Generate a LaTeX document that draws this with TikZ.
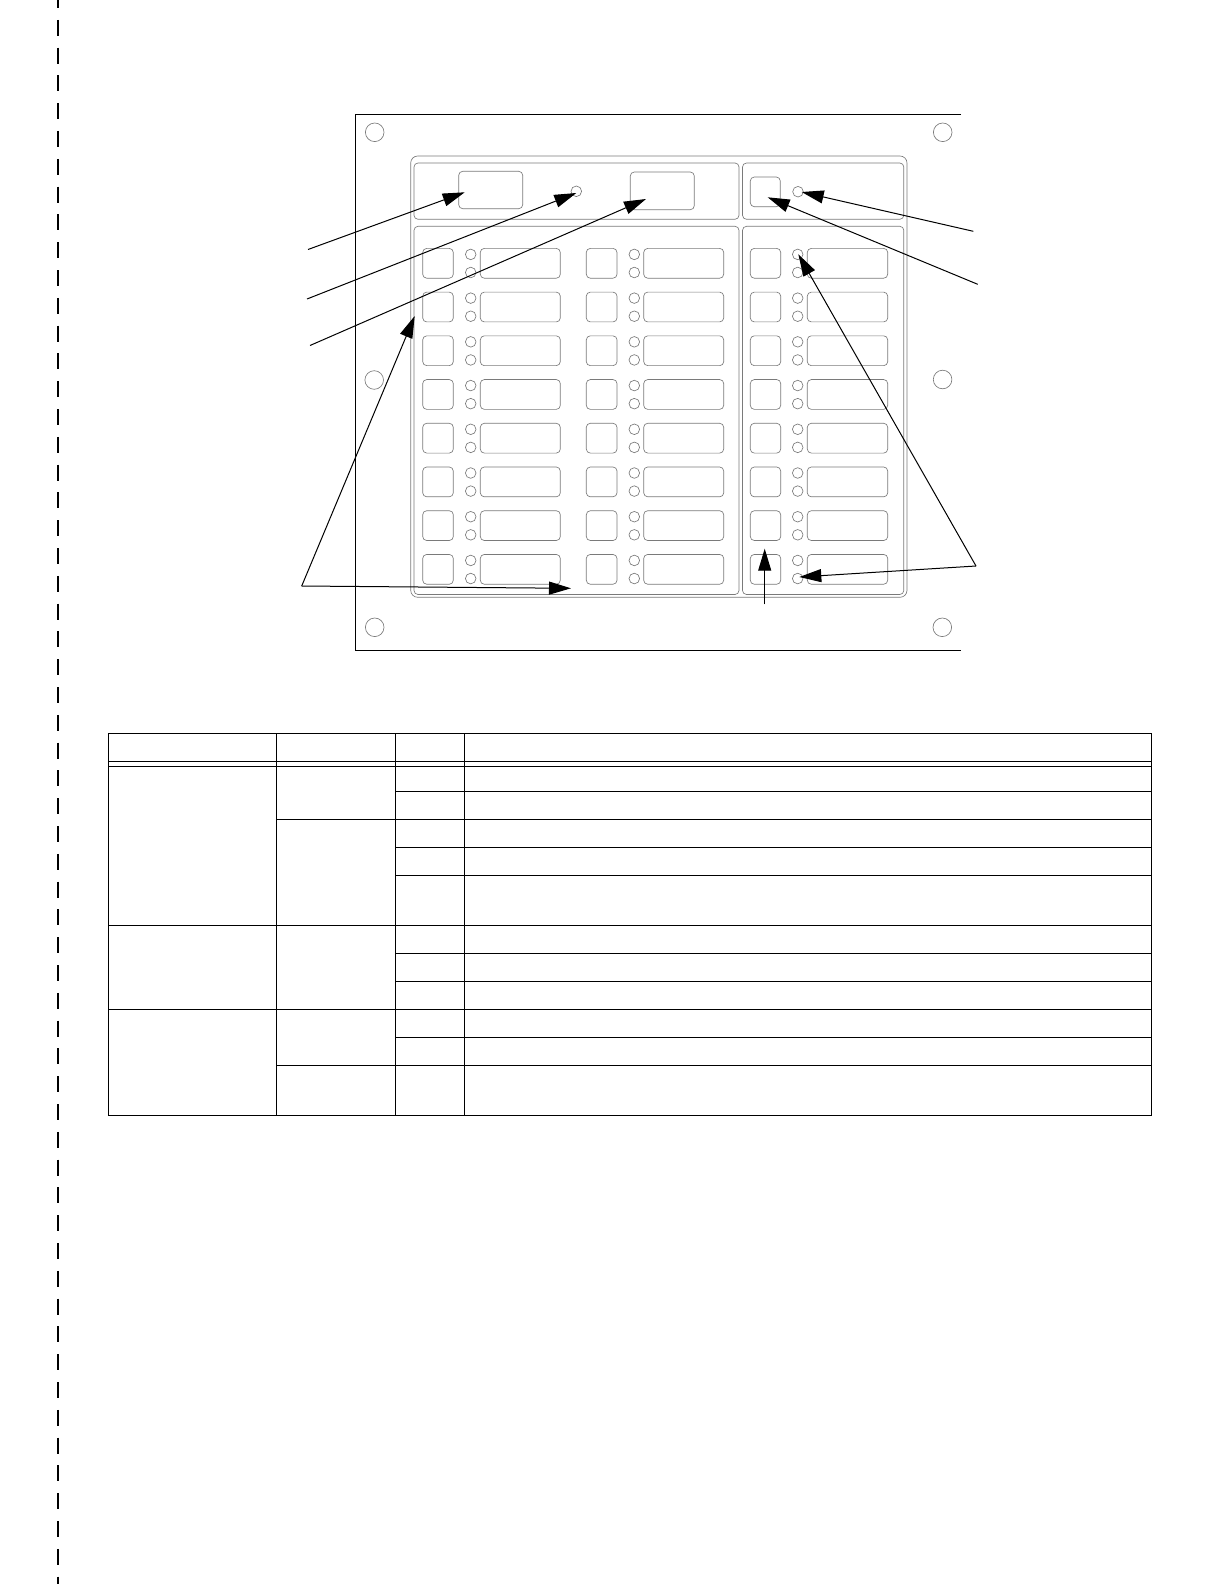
\documentclass[tikz,border=0pt]{standalone}
\usetikzlibrary{arrows.meta}
\tikzset{
  x=1pt,y=-1pt,
  panelgray/.style={draw=black!52,line width=0.65pt},
  outline/.style={draw=black,line width=1.3pt},
  grid/.style={draw=black,line width=1.1pt},
  callout/.style={draw=black,line width=1pt,-{Triangle[length=22pt,width=13pt]}},
  smallbox/.style={panelgray,rounded corners=4pt},
  bigbox/.style={panelgray,rounded corners=4pt},
}
\begin{document}
\begin{tikzpicture}
\useasboundingbox (0,0) rectangle (1224,1584);
\fill[white] (0,0) rectangle (1224,1584);
% cut line
\draw[black,line width=1.9pt,dash pattern=on 16pt off 11.8pt,dash phase=8pt] (58.3,0) -- (58.3,1584);
% plate
\draw[outline] (961,114.7) -- (355.5,114.7) -- (355.5,650.3) -- (961,650.3);
\foreach \hx/\hy in {374.7/132.3,942.7/132.3,374.2/380,942.6/379.5,374.7/627.3,942.3/627.3}
  \draw[panelgray] (\hx,\hy) circle[radius=9.3];
% bezel and panels
\draw[panelgray,rounded corners=7pt] (410.7,156) rectangle (907,597.3);
\draw[bigbox] (414,163) rectangle (739,219.3);
\draw[bigbox] (742.5,163) rectangle (903.8,219.3);
\draw[bigbox] (414,226.3) rectangle (739,594.5);
\draw[bigbox] (742.5,226.3) rectangle (903.8,594.5);
% top row
\draw[smallbox] (458.7,171.3) rectangle (522.7,208.7);
\draw[smallbox] (630.3,172) rectangle (694.3,209.7);
\draw[smallbox] (750.3,177) rectangle (780.3,206.7);
\draw[panelgray] (576.3,191.3) circle[radius=5.3];
\draw[panelgray] (798,191.7) circle[radius=5.3];
% breaker rows
\foreach \r in {0,...,7}{
  \pgfmathsetmacro{\ya}{248.4+43.72*\r}
  \pgfmathsetmacro{\yb}{\ya+29.8}
  \pgfmathsetmacro{\la}{\ya+6}
  \pgfmathsetmacro{\lb}{\ya+24.1}
  \foreach \bl/\br/\lx/\ll/\lr in {422.7/453.3/470.7/480.3/560.3,586.3/617/634.3/643.7/723.7,750.3/780.7/797.7/807.3/887.7}{
    \draw[smallbox] (\bl,\ya) rectangle (\br,\yb);
    \draw[panelgray] (\lx,\la) circle[radius=5.3];
    \draw[panelgray] (\lx,\lb) circle[radius=5.3];
    \draw[smallbox] (\ll,\ya) rectangle (\lr,\yb);
  }
}
% callouts
\coordinate (a1s) at (308,249.5); \coordinate (a1t) at (464.7,192.3);
\coordinate (a2s) at (307,299);   \coordinate (a2t) at (576.3,193);
\coordinate (a3s) at (310,345.5); \coordinate (a3t) at (646,199);
\coordinate (a4c) at (301.7,586); \coordinate (a4u) at (414.7,316); \coordinate (a4r) at (571,588.3);
\coordinate (a5s) at (973.3,231.3); \coordinate (a5t) at (801.7,192);
\coordinate (a6s) at (977.7,284.3); \coordinate (a6t) at (767.7,197.3);
\coordinate (a7c) at (976,566); \coordinate (a7u) at (798.3,254.3); \coordinate (a7l) at (799.3,577);
\coordinate (a8s) at (764.7,604.3); \coordinate (a8t) at (764.7,548.7);
\draw[callout] (a1s) -- (a1t);
\draw[callout] (a2s) -- (a2t);
\draw[callout] (a3s) -- (a3t);
\draw[callout] (a4c) -- (a4u);
\draw[callout] (a4c) -- (a4r);
\draw[callout] (a5s) -- (a5t);
\draw[callout] (a6s) -- (a6t);
\draw[callout] (a7c) -- (a7u);
\draw[callout] (a7c) -- (a7l);
\draw[callout] (a8s) -- (a8t);
% table
\draw[grid] (108.7,733.7) rectangle (1151.4,1115.2);
\draw[grid] (108.7,761.7) -- (1151.4,761.7);
\draw[grid] (108.7,766.3) -- (1151.4,766.3);
\foreach \cx in {276.7,395.3,464.7}
  \draw[grid] (\cx,733.7) -- (\cx,1115.2);
\foreach \ry in {791.3,819.3,847.3,875.3,925.3,953.3,981.3,1009.3,1037.3,1065.3}
  \draw[grid] (395.3,\ry) -- (1151.4,\ry);
\foreach \ry in {819.3,925.3,1009.3,1065.3}
  \draw[grid] (276.7,\ry) -- (395.3,\ry);
\foreach \ry in {925.3,1009.3}
  \draw[grid] (108.7,\ry) -- (276.7,\ry);
\end{tikzpicture}
\end{document}
